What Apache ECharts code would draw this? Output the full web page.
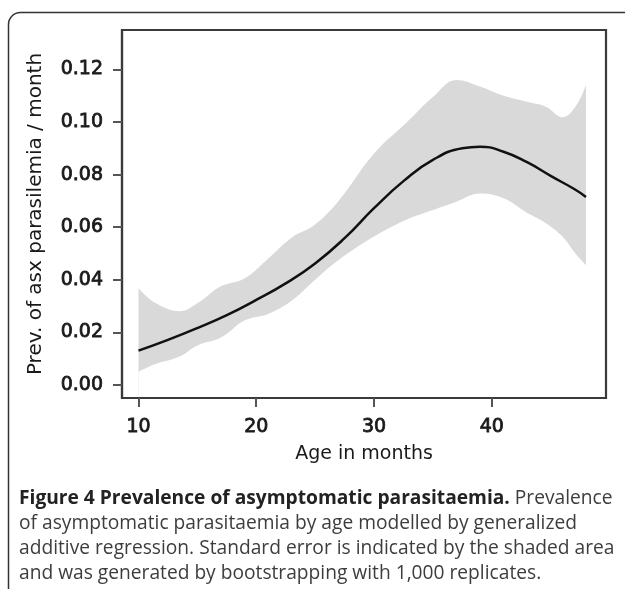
<!DOCTYPE html>
<html><head><meta charset="utf-8">
<script src="https://cdn.jsdelivr.net/npm/echarts@6/dist/echarts.min.js"></script>
<style>html,body{margin:0;padding:0;background:#fff}#c{width:625px;height:589px}</style>
</head><body><div id="c"></div>
<script>
// Shaded standard-error band (age in months, prevalence)
const bandAges  = [10, 11.5, 13.5, 15, 17, 19, 21, 23, 25, 27, 30, 32.7, 35, 37, 39, 41, 43, 44.6, 46, 47.1, 48];
const bandUpper = [0.0368, 0.031, 0.028, 0.031, 0.0375, 0.0405, 0.048, 0.056, 0.061, 0.070, 0.088, 0.0995, 0.1095, 0.116, 0.1135, 0.110, 0.1077, 0.1058, 0.1018, 0.1058, 0.114];
const bandLower = [0.005, 0.008, 0.0108, 0.015, 0.018, 0.0245, 0.027, 0.032, 0.040, 0.0475, 0.0564, 0.0627, 0.0665, 0.0697, 0.0728, 0.071, 0.0655, 0.0615, 0.0564, 0.050, 0.0456];
// Fitted GAM curve
const curveAges   = [10, 12.5, 15, 17.5, 20, 22.5, 25, 27.5, 30, 32.5, 35, 37.5, 39, 41, 43, 45, 47, 48];
const curveValues = [0.013, 0.0171, 0.0216, 0.0265, 0.0323, 0.0386, 0.0462, 0.0558, 0.0672, 0.0775, 0.0856, 0.0900, 0.0906, 0.0887, 0.0847, 0.0795, 0.0745, 0.0715];
// Tick labels
const xTicks = [10, 20, 30, 40];
const yTicks = [0, 0.02, 0.04, 0.06, 0.08, 0.10, 0.12];
const xName = 'Age in months';
const yName = 'Prev. of asx parasilemia / month';
const captionBold = 'Figure 4 Prevalence of asymptomatic parasitaemia.';
const captionLines = [
  ' Prevalence',
  'of asymptomatic parasitaemia by age modelled by generalized',
  'additive regression. Standard error is indicated by the shaded area',
  'and was generated by bootstrapping with 1,000 replicates.'
];

const chart = echarts.init(document.getElementById('c'), null, {renderer: 'canvas'});
const axisFont = 'DejaVu Sans';
const tickLabel = {fontFamily: axisFont, fontSize: 19, color: '#1a1a1a', textBorderColor: '#1a1a1a', textBorderWidth: 0.8};

chart.setOption({
  animation: false,
  backgroundColor: '#ffffff',
  grid: {left: 122, top: 30, width: 484, height: 368, show: true, z: 10, borderColor: '#3a3a3a', borderWidth: 2.2, backgroundColor: 'transparent'},
  xAxis: {
    type: 'value', min: 8.6, max: 49.7, z: 10,
    name: xName, nameLocation: 'middle', nameGap: 47,
    nameTextStyle: {fontFamily: axisFont, fontSize: 19, color: '#1a1a1a'},
    axisLine: {show: true, onZero: false, lineStyle: {color: '#3a3a3a', width: 2.2}},
    axisTick: {show: true, length: 9, customValues: xTicks, lineStyle: {color: '#555', width: 2}},
    axisLabel: Object.assign({margin: 20, customValues: xTicks, formatter: v => String(v)}, tickLabel),
    splitLine: {show: false}
  },
  yAxis: {
    type: 'value', min: -0.005, max: 0.135, z: 10,
    name: yName, nameLocation: 'middle', nameGap: 76,
    nameTextStyle: {fontFamily: axisFont, fontSize: 20, color: '#1a1a1a'},
    axisLine: {show: true, onZero: false, lineStyle: {color: '#3a3a3a', width: 2.2}},
    axisTick: {show: true, length: 9, customValues: yTicks, lineStyle: {color: '#555', width: 2}},
    axisLabel: Object.assign({margin: 19, customValues: yTicks, formatter: v => v.toFixed(2)}, tickLabel),
    splitLine: {show: false}
  },
  series: [
    {
      // upper bound of the band, filled grey down to the axis
      type: 'line', smooth: 0.4, symbol: 'none', silent: true,
      data: bandAges.map((a, i) => [a, bandUpper[i]]),
      lineStyle: {opacity: 0}, areaStyle: {color: '#d9d9d9', opacity: 1, origin: 'start'}, z: 1
    },
    {
      // lower bound of the band, white below it
      type: 'line', smooth: 0.4, symbol: 'none', silent: true,
      data: bandAges.map((a, i) => [a, bandLower[i]]),
      lineStyle: {opacity: 0}, areaStyle: {color: '#ffffff', opacity: 1, origin: 'start'}, z: 2
    },
    {
      type: 'line', smooth: 0.5, symbol: 'none', silent: true,
      data: curveAges.map((a, i) => [a, curveValues[i]]),
      lineStyle: {color: '#111', width: 2.5}, z: 3
    }
  ],
  graphic: [
    {type: 'rect', shape: {x: 8.5, y: 12.5, width: 700, height: 700, r: 12}, style: {fill: 'none', stroke: '#333', lineWidth: 1.5}, silent: true},
    {
      type: 'text', left: 19, top: 486,
      style: {
        text: '{b|' + captionBold + '}' + captionLines.join('\n'),
        fontFamily: 'Open Sans', fontSize: 19.2, fill: '#3d3d3d', lineHeight: 25,
        rich: {b: {fontFamily: 'Open Sans', fontWeight: 'bold', fontSize: 19.2, fill: '#222', lineHeight: 25}}
      },
      silent: true
    }
  ]
});
</script></body></html>
